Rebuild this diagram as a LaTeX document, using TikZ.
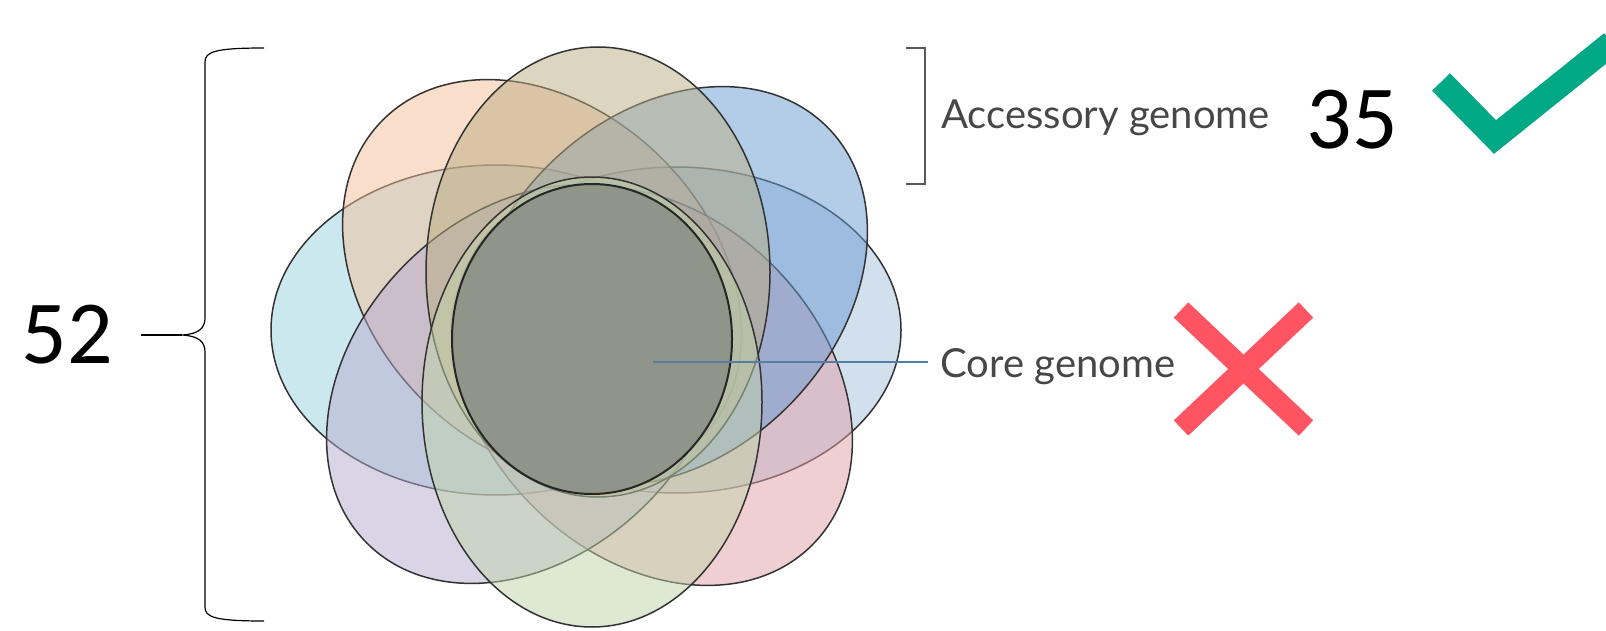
\documentclass[tikz,border=0pt]{standalone}
\usepackage{fontspec}
\newfontfamily\labelfont{Lato}
\newfontfamily\numberfont{Carlito}
\usepackage{tikz}
\definecolor{cyanp}{HTML}{9BD3E1}
\definecolor{lightbluep}{HTML}{A7C1DB}
\definecolor{peachp}{HTML}{F3BF99}
\definecolor{pinkp}{HTML}{E1A1A7}
\definecolor{purplep}{HTML}{B5ABCF}
\definecolor{bluep}{HTML}{699BD3}
\definecolor{tanp}{HTML}{BBAD81}
\definecolor{greenp}{HTML}{C1D3A9}
\definecolor{coregray}{HTML}{919488}
\definecolor{leaderblue}{RGB}{84,126,166}
\definecolor{checkgreen}{RGB}{0,168,134}
\definecolor{crossred}{RGB}{255,84,98}

\begin{document}
\begin{tikzpicture}[x=0.5pt,y=-0.5pt,
  petal/.style={draw=black!80,line width=0.75pt,fill opacity=0.5},
  labeltext/.style={font={\labelfont\fontsize{20}{24}\selectfont},text=black!72,inner sep=0pt,anchor=base west},
  bignum/.style={font={\numberfont\fontsize{45}{54}\selectfont},inner sep=0pt},
  bracket/.style={line width=0.6pt},
  leader/.style={draw=leaderblue,line width=1pt},
  checkstroke/.style={draw=checkgreen,line width=12.5pt,line join=miter},
  crossstroke/.style={draw=crossred,line width=10.5pt}]
\useasboundingbox (0,0) rectangle (1606,631);
\fill[white] (0,0) rectangle (1606,631);

% flower
\draw[petal,fill=cyanp] (496,330) ellipse [x radius=225,y radius=165];
\draw[petal,fill=lightbluep] (676,330) ellipse [x radius=225,y radius=163];
\draw[petal,fill=peachp,rotate around={-45:(542,279)}] (542,279) ellipse [x radius=225,y radius=170];
\draw[petal,fill=pinkp,rotate around={-45:(653,386)}] (653,386) ellipse [x radius=225,y radius=170];
\draw[petal,fill=purplep,rotate around={45:(526,384)}] (526,384) ellipse [x radius=225,y radius=170];
\draw[petal,fill=bluep,rotate around={45:(668,286)}] (668,286) ellipse [x radius=225,y radius=170];
\draw[petal,fill=tanp] (598,272) ellipse [x radius=172,y radius=225];
\draw[petal,fill=greenp] (592,402) ellipse [x radius=170,y radius=225];
\draw[fill=coregray,draw=black!85,line width=1pt] (592,339) ellipse [x radius=140,y radius=155];

% labels
\node[labeltext] (acclabel) at (941,129) {Accessory genome};
\node[labeltext,inner xsep=6pt] (corelabel) at (928,377) {Core genome};
\node[bignum] (accnum) at (1352,120) {35};
\node[bignum] (totalnum) at (67,335) {52};

\coordinate (corepin) at (653,362);
\draw[leader] (corepin) -- (corepin -| corelabel.west);

\draw[bracket,draw=black!65,line width=0.8pt] (906,48) -- (925,48) -- (925,184) -- (906,184);

\coordinate (bracetip) at (182,335);
\draw[bracket] (264,48) .. controls (214,48) and (205,52) .. (205,62) -- (205,318)
  .. controls (205,328) and (199,334) .. (bracetip)
  .. controls (199,336) and (205,342) .. (205,352) -- (205,607)
  .. controls (205,617) and (214,621) .. (264,621);
\draw[bracket,shorten <=14pt] (totalnum) -- (bracetip);

\draw[checkstroke] (1441,82) -- (1495,137) -- (1612,43);
\draw[crossstroke] (1181,310) -- (1306,428);
\draw[crossstroke] (1306,310) -- (1181,428);

\end{tikzpicture}
\end{document}
